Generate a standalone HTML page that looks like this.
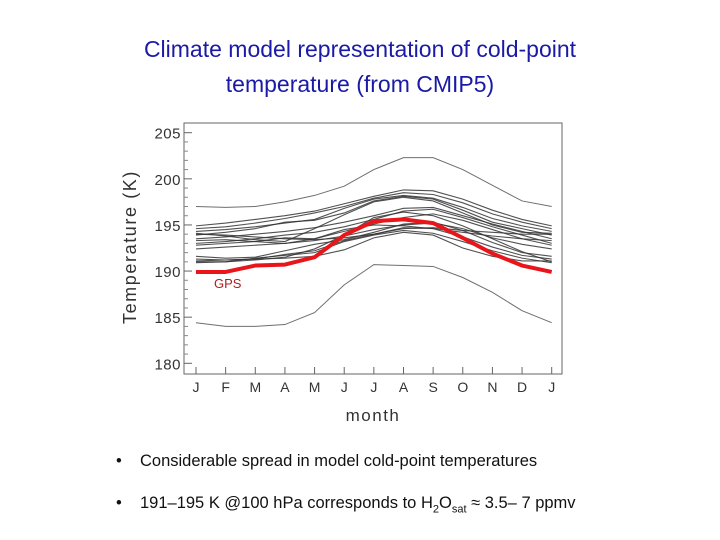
<!DOCTYPE html>
<html><head><meta charset="utf-8"><style>
body{margin:0;background:#fff;width:720px;height:540px;overflow:hidden;font-family:"Liberation Sans",sans-serif}
.t{position:absolute;left:0;width:720px;text-align:center;color:#1a1aa6;font-size:23px}
.b{position:absolute;left:116px;font-size:16.5px;color:#111;white-space:nowrap}
.b .d{display:inline-block;width:24px}
</style></head><body>
<div class="t" style="top:36px">Climate model representation of cold-point</div>
<div class="t" style="top:71px">temperature (from CMIP5)</div>
<svg width="720" height="540" style="position:absolute;left:0;top:0" id="ch"></svg>
<div class="b" style="top:452px"><span class="d">•</span>Considerable spread in model cold-point temperatures</div>
<div class="b" style="top:494px;font-size:16.5px"><span class="d">•</span>191–195 K @100 hPa corresponds to H<sub style="font-size:11px">2</sub>O<sub style="font-size:11px">sat</sub> ≈ 3.5– 7 ppmv</div>
<script>
const months=["J","F","M","A","M","J","J","A","S","O","N","D","J"];
const yTicks=[180,185,190,195,200,205];
const gps=[189.9,189.9,190.6,190.7,191.5,193.9,195.4,195.6,195.2,193.6,191.9,190.6,189.9];
const modelHigh=[197,196.9,197,197.5,198.2,199.2,201,202.3,202.3,201,199.3,197.6,197];
const modelLow=[184.4,184,184,184.2,185.5,188.5,190.7,190.6,190.5,189.3,187.7,185.7,184.4];
const m1=[194.9,195.2,195.6,196,196.5,197.3,198.1,198.8,198.7,197.8,196.6,195.6,194.9];
const m2=[194.6,194.8,195.2,195.7,196.3,197.0,197.9,198.5,198.3,197.4,196.2,195.3,194.6];
const m3=[194.3,194.5,194.8,195.2,195.6,196.8,197.8,198.2,197.9,196.9,195.7,194.9,194.3];
const m4=[193.9,194.2,194.6,195.3,195.5,196.3,197.6,198.1,197.8,196.6,195.3,194.6,193.9];
const m5=[194.1,193.8,193.4,193.2,194.6,196.1,197.5,198.0,197.6,196.3,195.0,194.2,194.1];
const m6=[193.5,193.7,194,194.3,194.7,195.3,196,196.8,196.9,196.0,195.1,194.3,193.5];
const m7=[193.0,193.2,193.5,193.9,194.2,194.8,195.6,196.5,196.7,195.8,194.8,193.9,193.0];
const m8=[192.8,193.0,193.2,193.6,193.5,194.3,195.1,195.8,196.2,195.5,194.5,193.5,192.8];
const m9=[194.0,193.9,193.7,193.5,193.4,193.6,194.0,194.6,194.7,194.4,194.2,194.0,194.0];
const m10=[192.4,192.6,192.8,193.0,193.3,193.8,194.5,195.0,195.2,194.6,193.6,192.9,192.4];
const m11=[191.6,191.4,191.5,192.2,192.9,193.4,194.2,195.1,195.3,194.4,193.1,192.0,191.6];
const m12=[191.3,191.2,191.3,191.8,192.2,193.3,194.0,194.7,194.6,193.7,192.6,191.7,191.3];
const m13=[190.9,191.0,191.4,191.7,192.0,193.2,193.9,194.4,194.1,193.2,192.2,191.4,190.9];
const m14=[191.0,191.0,191.2,191.5,192.4,193.9,195.8,196.4,196.0,194.9,193.5,192.1,191.0];
const m15=[191.1,191.2,191.3,191.4,191.6,192.3,193.6,194.2,193.9,192.5,191.6,191.1,191.1];
const m16=[193.3,193.4,193.2,193.0,193.5,194.5,195.0,194.9,194.6,194.2,193.8,193.5,193.3];
const series=[modelHigh,modelLow,m1,m2,m3,m4,m5,m6,m7,m8,m9,m10,m11,m12,m13,m14,m15,m16];
const svg=document.getElementById('ch');const NS="http://www.w3.org/2000/svg";
const X0=196,XS=(551.7-196)/12,Y0=363.3,YS=(363.3-132.7)/25;
const x=i=>X0+i*XS, y=v=>Y0-(v-180)*YS;
function mk(t,a,txt){const e=document.createElementNS(NS,t);for(const k in a)e.setAttribute(k,a[k]);if(txt!=null)e.textContent=txt;svg.appendChild(e);return e;}
let e=mk('rect',{x:184,y:123,width:378,height:251,fill:'none',stroke:'#666','stroke-width':1});

yTicks.forEach(v=>{let t=mk('text',{x:181,y:y(v)+6,'text-anchor':'end','font-size':15,fill:'#333','letter-spacing':'0.5'},v);

mk('line',{x1:184,x2:192,y1:y(v),y2:y(v),stroke:'#666'});});
for(let v=181;v<205;v++){if(v%5)mk('line',{x1:184,x2:188,y1:y(v),y2:y(v),stroke:'#888'});}
months.forEach((m,i)=>{mk('line',{x1:x(i),x2:x(i),y1:374,y2:367,stroke:'#666'});
let t=mk('text',{x:x(i),y:392,'text-anchor':'middle','font-size':14,fill:'#333'},m);
});
e=mk('text',{x:373,y:421,'text-anchor':'middle','font-size':17,fill:'#333','letter-spacing':'1.5'},'month');

e=mk('text',{x:136,y:247,'text-anchor':'middle','font-size':18,fill:'#333','letter-spacing':'1.6',transform:'rotate(-90 136 247)'},'Temperature (K)');

const pts=a=>a.map((v,i)=>x(i)+','+y(v)).join(' ');
series.forEach((s,k)=>{let p=mk('polyline',{points:pts(s),fill:'none',stroke:k<2?'#555':'#333','stroke-width':k<2?1:1.1,opacity:0.85});
});
e=mk('polyline',{points:pts(gps),fill:'none',stroke:'#e8161a','stroke-width':4,'stroke-linejoin':'round'});

e=mk('text',{x:214,y:288,'font-size':13,fill:'#b02020'},'GPS');

</script>
</body></html>
